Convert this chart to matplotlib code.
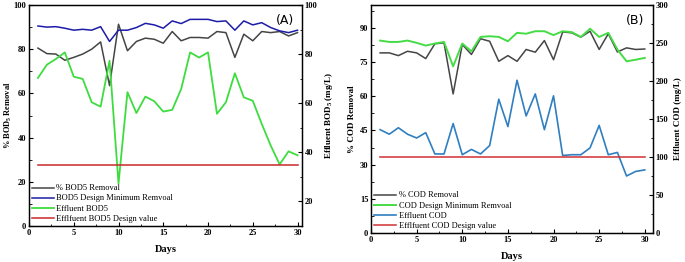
import matplotlib
matplotlib.use("Agg")
import matplotlib.pyplot as plt
from matplotlib.ticker import MultipleLocator, AutoMinorLocator

days = list(range(1, 31))

bod_removal = [80.5, 78, 77.8, 75, 76.3, 77.8, 80, 83.3, 63.5, 91.3,
               79.3, 83.5, 85, 84.5, 82.7, 88, 83.8, 85.3, 85.3, 85,
               88, 87.5, 76.3, 86.8, 83.8, 88, 87.5, 88, 86, 87.5]
bod_design_min = [90.5, 90, 90.2, 89.5, 88.6, 89, 88.6, 90.2, 83.5, 88.6,
                  88.6, 89.8, 91.7, 91, 89.5, 92.8, 91.6, 93.5, 93.5, 93.5,
                  92.5, 92.8, 88.6, 92.8, 91, 92, 89.8, 88.3, 87.5, 88.6]
eff_bod = [70.3, 75.7, 78, 80.7, 70.8, 69.9, 60.4, 58.6, 77.3, 27.3,
           64.5, 56, 62.7, 60.8, 56.6, 57.3, 65.8, 80.7, 78.6, 80.7,
           55.7, 60.4, 72.2, 62.4, 61, 51.6, 42.8, 35.1, 40.4, 38.8]
eff_bod_design = 35

cod_removal = [79, 79, 77.8, 79.7, 79, 76.5, 83, 83.4, 61, 82.7,
               78.3, 85.2, 84.1, 75.3, 77.8, 75.3, 80.5, 79.3, 84.4, 76,
               88.2, 87.8, 85.9, 88.5, 80.5, 87.4, 79.4, 81.2, 80.5, 80.7]
cod_design_min = [84.4, 83.8, 83.8, 84.4, 83.4, 82.2, 83.1, 83.8, 73.1, 83.1,
                  79.7, 86, 86.3, 86, 84.1, 87.8, 87.4, 88.5, 88.5, 86.8,
                  88.5, 88.1, 86, 89.6, 86, 87.8, 80.5, 75.3, 76, 76.8]
eff_cod = [136, 130, 138.5, 130, 125, 132, 104, 104, 144, 103,
           110, 104, 115, 176, 140, 201, 154, 183, 136, 180.5,
           102, 103, 103, 112, 141.6, 103, 106, 75, 81, 83]
eff_cod_design = 100

plt.rcParams['font.family'] = ['Liberation Serif', 'DejaVu Serif']
plt.rcParams['font.weight'] = 'bold'
plt.rcParams['mathtext.fontset'] = 'custom'
plt.rcParams['mathtext.rm'] = 'Liberation Serif:bold'
plt.rcParams['mathtext.it'] = 'Liberation Serif:bold'
plt.rcParams['mathtext.bf'] = 'Liberation Serif:bold'
plt.rcParams['mathtext.default'] = 'rm'

fig = plt.figure(figsize=(6.85, 2.62), dpi=100)

def style(ax, axr, xmax):
    for a in (ax, axr):
        a.tick_params(direction='in', labelsize=6, width=0.8, length=3, pad=2)
        a.tick_params(which='minor', direction='in', width=0.6, length=1.8)
        for s in a.spines.values():
            s.set_linewidth(0.9)
        for lab in a.get_xticklabels() + a.get_yticklabels():
            lab.set_fontweight('bold')
    ax.set_xlim(0, xmax)
    ax.xaxis.set_major_locator(MultipleLocator(5))
    ax.xaxis.set_minor_locator(AutoMinorLocator(2))
    ax.yaxis.set_minor_locator(AutoMinorLocator(2))
    axr.yaxis.set_minor_locator(AutoMinorLocator(2))
    ax.tick_params(top=False, right=False)
    ax.tick_params(which='minor', top=False, right=False)
    ax.set_xlabel('Days', fontsize=7.5, fontweight='bold', labelpad=6)

# Panel A
axA = fig.add_axes([29/685, 36/262, 273/685, 221/262])
axAr = axA.twinx()
lA1, = axA.plot(days, bod_removal, color='#454545', lw=1.1, label='% BOD5 Removal')
lA2, = axA.plot(days, bod_design_min, color='#1c1ca8', lw=1.1, label='BOD5 Design Minimum Remvoal')
lA3, = axAr.plot(days, eff_bod, color='#3fdc3f', lw=1.3, label='Effluent BOD5')
lA4, = axAr.plot(days, [eff_bod_design] * len(days), color='#c8282a', lw=1.1, label='Efflfuent BOD5 Design value')
axA.set_ylim(0, 100)
axA.yaxis.set_major_locator(MultipleLocator(20))
axAr.set_ylim(10, 100)
axAr.yaxis.set_major_locator(MultipleLocator(20))
style(axA, axAr, 30.5)
axA.set_ylabel('% BOD$_5$ Removal', fontsize=6, fontweight='bold')
axA.yaxis.set_label_coords(-15/273, 0.5)
axAr.set_ylabel('Effluent BOD$_5$ (mg/L)', fontsize=6.5, fontweight='bold', labelpad=4)
axA.text(0.97, 0.96, '(A)', transform=axA.transAxes, ha='right', va='top',
         fontsize=9, family='DejaVu Sans', fontweight='normal')
axA.legend(handles=[lA1, lA2, lA3, lA4], loc='lower left', frameon=False,
           handlelength=2.6, handletextpad=0.3, labelspacing=0.25,
           borderaxespad=0.2, borderpad=0.2, prop={'size': 6, 'weight': 'normal'})

# Panel B
axB = fig.add_axes([371/685, 29/262, 282/685, 228/262])
axBr = axB.twinx()
lB1, = axB.plot(days, cod_removal, color='#454545', lw=1.1, label='% COD Removal')
lB2, = axB.plot(days, cod_design_min, color='#46dc46', lw=1.4, label='COD Design Minimum Remvoal')
lB3, = axBr.plot(days, eff_cod, color='#2f7fc1', lw=1.2, label='Effluent COD')
lB4, = axBr.plot(days, [eff_cod_design] * len(days), color='#d03035', lw=1.1, label='Efflfuent COD Design value')
axB.set_ylim(0, 100)
axB.yaxis.set_major_locator(MultipleLocator(15))
axBr.set_ylim(0, 300)
axBr.yaxis.set_major_locator(MultipleLocator(50))
style(axB, axBr, 30.9)
axB.set_ylabel('% COD Removal', fontsize=6.5, fontweight='bold', labelpad=3)
axBr.set_ylabel('Effluent COD (mg/L)', fontsize=6.5, fontweight='bold', labelpad=4)
axB.text(0.97, 0.96, '(B)', transform=axB.transAxes, ha='right', va='top',
         fontsize=9, family='DejaVu Sans', fontweight='normal')
axB.legend(handles=[lB1, lB2, lB3, lB4], loc='lower left', frameon=False,
           handlelength=2.6, handletextpad=0.3, labelspacing=0.25,
           borderaxespad=0.2, borderpad=0.2, prop={'size': 6, 'weight': 'normal'})

fig.savefig('out.png', dpi=100)
